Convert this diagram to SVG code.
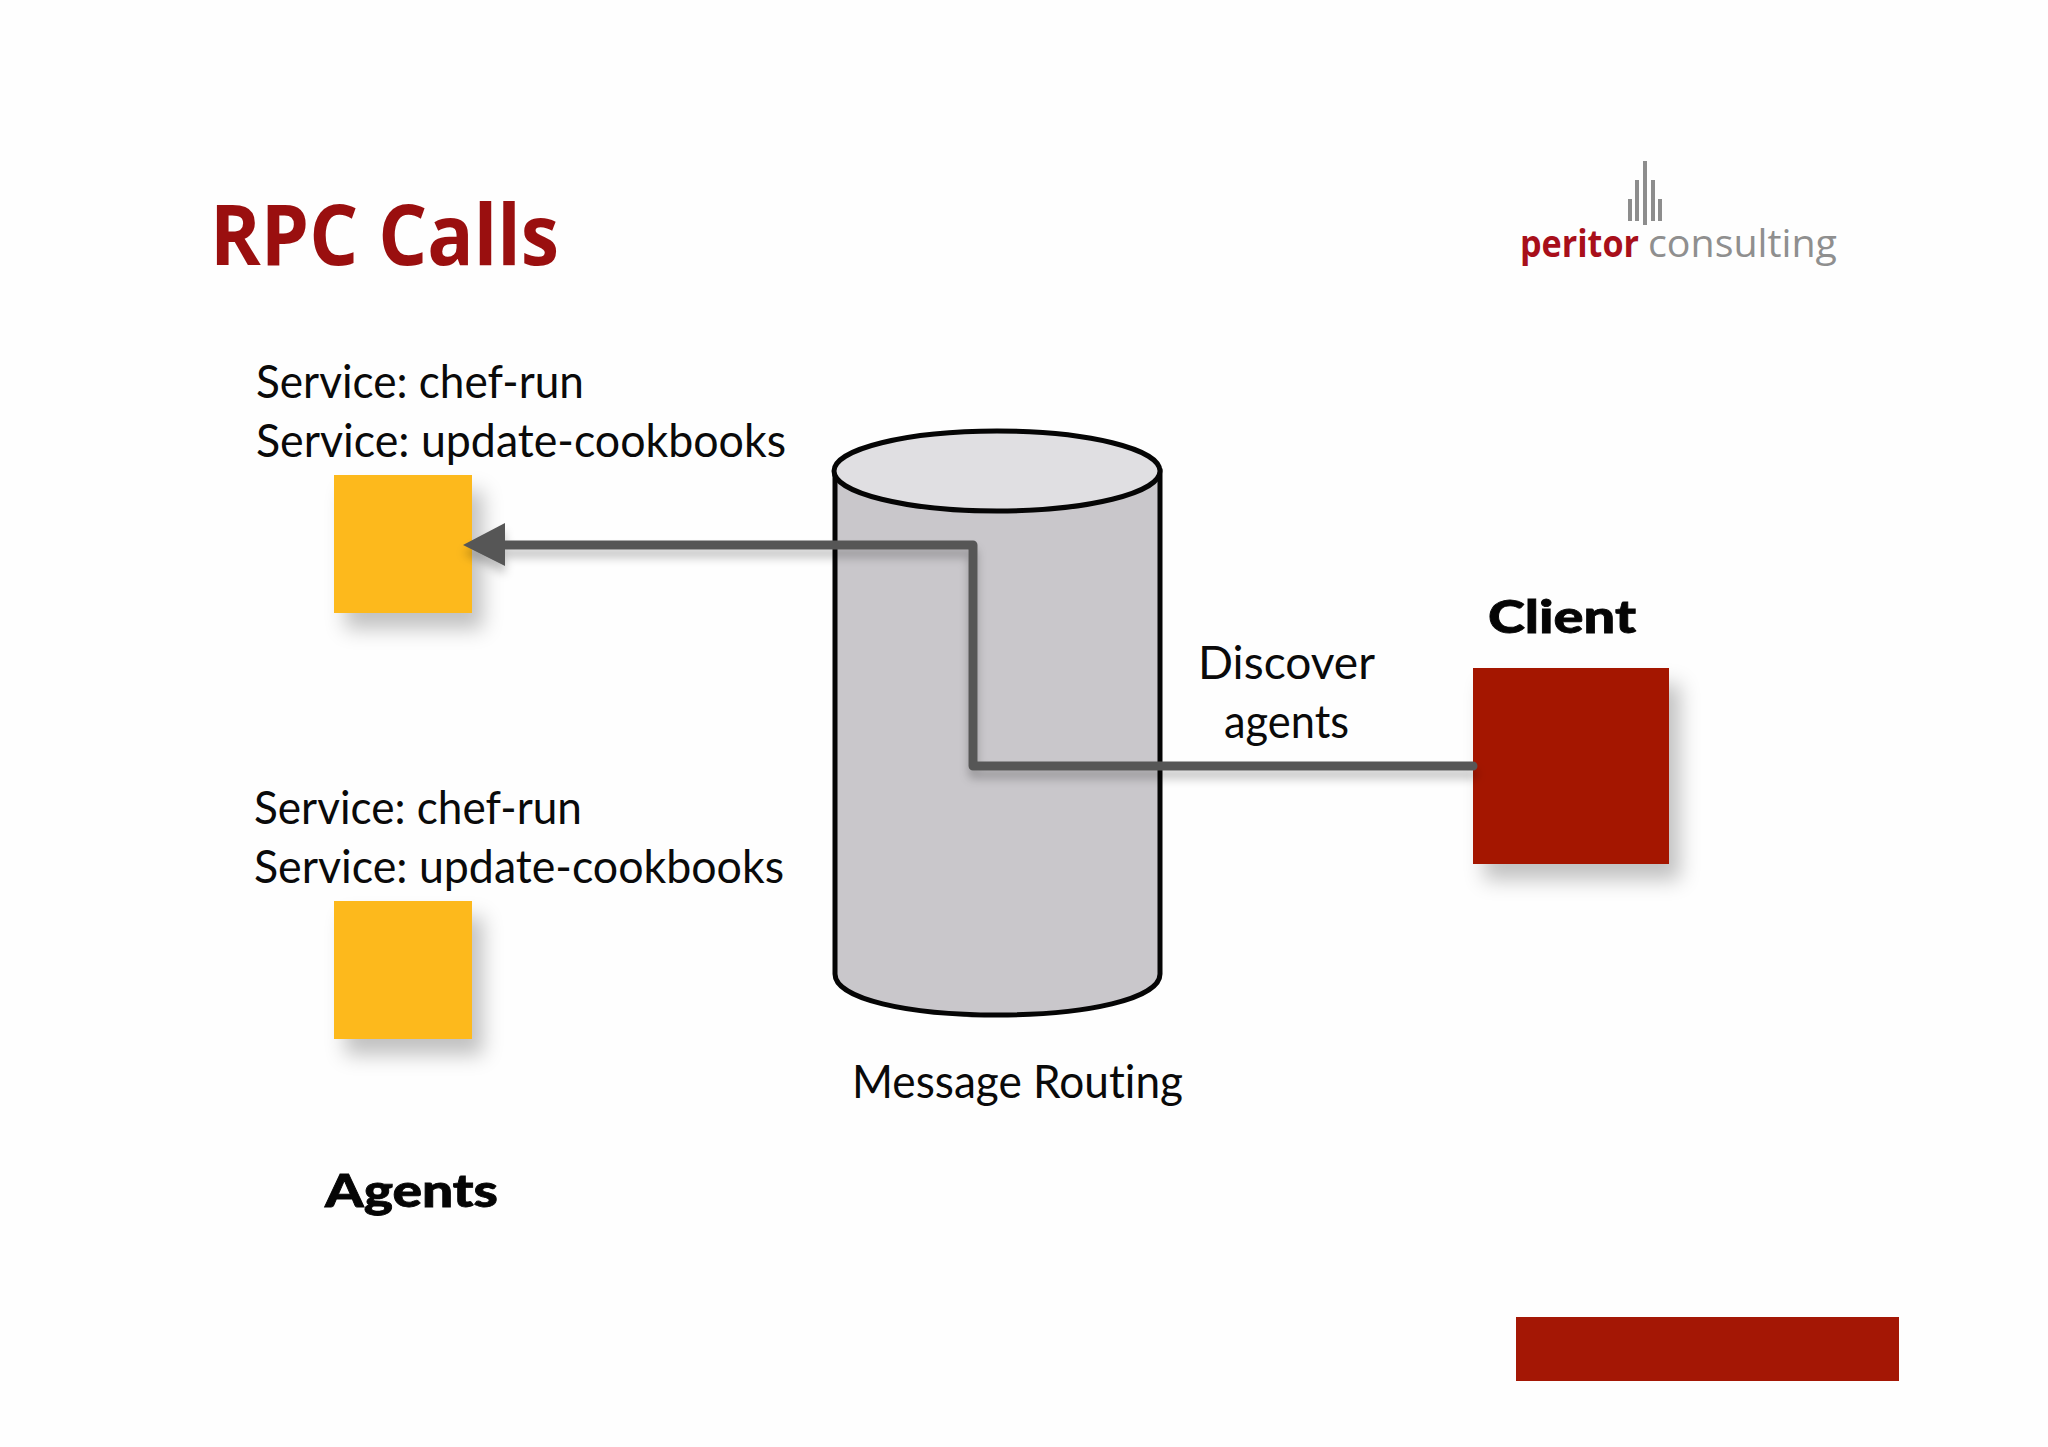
<svg xmlns="http://www.w3.org/2000/svg" width="2048" height="1447" viewBox="0 0 2048 1447">
<style>
text{font-variant-ligatures:none}
.t{font-family:Lato,"Open Sans",sans-serif;font-size:46px;fill:#0a0a0a}
.b{font-family:Lato,"Open Sans",sans-serif;font-size:46px;font-weight:900;fill:#050505;stroke:#050505;stroke-width:.8}
.y{fill:#fdb91e;filter:url(#s)}
.r{fill:#a41705}
.g{fill:#8d8d8d}
</style>
<defs>
<filter id="s" x="-25%" y="-25%" width="160%" height="160%"><feDropShadow dx="11" dy="16" stdDeviation="10" flood-color="#000" flood-opacity=".24"/></filter>
<filter id="l" x="-5%" y="-5%" width="110%" height="115%"><feDropShadow dx="0" dy="8" stdDeviation="5" flood-color="#000" flood-opacity=".24"/></filter>
</defs>
<rect width="2048" height="1447" fill="#fefefe"/>
<text id="title" x="210" y="265" font-family="'Open Sans',sans-serif" font-weight="700" font-size="84" fill="#9a0f0f" textLength="349" lengthAdjust="spacingAndGlyphs">RPC Calls</text>
<g id="logo">
<rect class="g" x="1628" y="199" width="4" height="22"/><rect class="g" x="1635" y="180" width="4" height="41"/><rect class="g" x="1643" y="161" width="4" height="64"/><rect class="g" x="1651" y="180" width="4" height="41"/><rect class="g" x="1658" y="199" width="4" height="22"/>
<text x="1520" y="257" font-family="'Open Sans',sans-serif" font-size="38" font-weight="700" fill="#a80f1a" textLength="119" lengthAdjust="spacingAndGlyphs">peritor</text>
<text x="1648" y="257" font-family="'Open Sans',sans-serif" font-size="38" fill="#8f8f8f" textLength="189" lengthAdjust="spacingAndGlyphs">consulting</text>
</g>
<g id="cylinder">
<path d="M835 471V974C835 999 908 1015 997 1015S1160 999 1160 974V471Z" fill="#c9c7cb" stroke="#050505" stroke-width="5"/>
<ellipse cx="997" cy="471" rx="163" ry="40" fill="#e0dfe2" stroke="#050505" stroke-width="5"/>
</g>
<g id="agent1"><rect class="y" x="334" y="475" width="138" height="138"/></g>
<g id="agent2"><rect class="y" x="334" y="901" width="138" height="138"/></g>
<g id="client"><rect class="r" x="1473" y="668" width="196" height="196" filter="url(#s)"/></g>
<g id="connectors" filter="url(#l)">
<path d="M1473 766H973V545H500" fill="none" stroke="#565656" stroke-width="9" stroke-linejoin="round" stroke-linecap="round"/>
<path d="M463 545L505 523V566Z" fill="#565656"/>
</g>
<g id="labels">
<text class="t" x="256" y="398" textLength="328" lengthAdjust="spacingAndGlyphs">Service: chef-run</text>
<text class="t" x="256" y="457" textLength="530" lengthAdjust="spacingAndGlyphs">Service: update-cookbooks</text>
<text class="t" x="254" y="824" textLength="328" lengthAdjust="spacingAndGlyphs">Service: chef-run</text>
<text class="t" x="254" y="883" textLength="530" lengthAdjust="spacingAndGlyphs">Service: update-cookbooks</text>
<text class="b" x="1488" y="633" textLength="148" lengthAdjust="spacingAndGlyphs">Client</text>
<text class="t" x="1198" y="679" textLength="177" lengthAdjust="spacingAndGlyphs">Discover</text>
<text class="t" x="1224" y="738" textLength="125" lengthAdjust="spacingAndGlyphs">agents</text>
<text class="t" x="852" y="1098" textLength="331" lengthAdjust="spacingAndGlyphs">Message Routing</text>
<text class="b" x="325" y="1207" textLength="173" lengthAdjust="spacingAndGlyphs">Agents</text>
</g>
<rect id="footer" class="r" x="1516" y="1317" width="383" height="64"/>
</svg>
